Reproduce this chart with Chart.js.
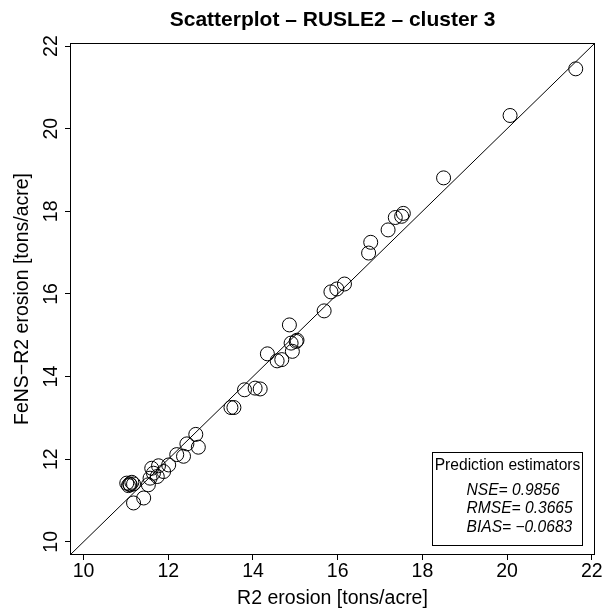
<!DOCTYPE html>
<html>
<head>
<meta charset="utf-8">
<script src="https://cdn.jsdelivr.net/npm/chart.js@4/dist/chart.umd.min.js"></script>
<style>
  html, body { margin: 0; padding: 0; background: #ffffff; }
  #wrap { width: 603px; height: 610px; }
</style>
</head>
<body>
<div id="wrap"><canvas id="c" width="603" height="610"></canvas></div>
<script>
// Observed R2 erosion (x) and FeNS-R2 erosion (y), tons/acre
const r2Erosion = [
  21.62, 20.07, 18.50, 17.55, 17.51, 17.36, 17.19, 16.78, 16.73,
  16.16, 15.98, 15.84, 15.68, 14.86, 15.04, 15.02, 14.90, 14.93,
  14.34, 14.57, 14.68, 14.17, 14.05, 13.80, 13.55, 13.48,
  12.71, 12.65, 12.44, 12.36, 12.20, 12.01, 11.89, 11.77, 11.65,
  11.61, 11.74, 11.57, 11.53, 11.42, 11.18,
  11.02, 11.09, 11.14, 11.06, 11.10, 11.18
];
const fensErosion = [
  21.45, 20.32, 18.81, 17.95, 17.88, 17.85, 17.55, 17.25, 16.99,
  16.24, 16.12, 16.05, 15.59, 15.25, 14.88, 14.85, 14.81, 14.61,
  14.55, 14.38, 14.41, 13.70, 13.72, 13.68, 13.25, 13.25,
  12.29, 12.60, 12.37, 12.07, 12.11, 11.86, 11.70, 11.84, 11.66,
  11.78, 11.58, 11.54, 11.38, 11.06, 10.94,
  11.42, 11.40, 11.44, 11.36, 11.38, 11.40
];

// Shared axis range (both axes) and tick positions
const axisLimits = [9.68, 22.075];
const tickValues = [10, 12, 14, 16, 18, 20, 22];

// Goodness-of-fit summary shown in the inset box
const estimatorTitle = 'Prediction estimators';
const estimatorLabels = ['NSE= 0.9856', 'RMSE= 0.3665', 'BIAS= \u22120.0683'];

const FONT = "'Liberation Sans', Arial, Helvetica, sans-serif";
const AXIS_SIZE = 19.5;
const INK = '#000000';

// Frame around the plotting region, rotated y tick labels and the estimator box
const framePlugin = {
  id: 'frame',
  afterDraw(chart) {
    const { ctx, chartArea: a, scales } = chart;
    ctx.save();
    ctx.strokeStyle = INK;
    ctx.lineWidth = 1;
    ctx.strokeRect(Math.round(a.left) + 0.5, Math.round(a.top) + 0.5,
                   Math.round(a.right - a.left) - 1, Math.round(a.bottom - a.top) - 1);

    // y tick labels, parallel to the axis
    ctx.fillStyle = INK;
    ctx.font = AXIS_SIZE + 'px ' + FONT;
    ctx.textAlign = 'center';
    ctx.textBaseline = 'middle';
    tickValues.forEach(v => {
      const py = scales.y.getPixelForValue(v);
      ctx.save();
      ctx.translate(a.left - 18, py);
      ctx.rotate(-Math.PI / 2);
      ctx.fillText(String(v), 0, 0);
      ctx.restore();
    });

    // estimator box in the lower-right corner
    const bw = 150, bh = 93;
    const bx = Math.round(a.right - 13 - bw), by = Math.round(a.bottom - 10 - bh);
    ctx.fillStyle = '#ffffff';
    ctx.fillRect(bx, by, bw, bh);
    ctx.strokeStyle = INK;
    ctx.strokeRect(bx + 0.5, by + 0.5, bw, bh);
    ctx.fillStyle = INK;
    ctx.font = '15.6px ' + FONT;
    ctx.textAlign = 'center';
    ctx.textBaseline = 'middle';
    ctx.fillText(estimatorTitle, bx + bw / 2 + 0.5, by + 13.5);
    ctx.font = 'italic 15.6px ' + FONT;
    ctx.textAlign = 'left';
    estimatorLabels.forEach((t, i) => {
      ctx.fillText(t, bx + 34.5, by + 38.5 + i * 18.4);
    });
    ctx.restore();
  }
};

const fixedTicks = s => { s.ticks = tickValues.map(v => ({ value: v })); };

new Chart(document.getElementById('c'), {
  type: 'scatter',
  data: {
    datasets: [
      {
        label: 'cluster 3',
        data: r2Erosion.map((x, i) => ({ x: x, y: fensErosion[i] })),
        pointStyle: 'circle',
        pointRadius: 7,
        pointHoverRadius: 7,
        borderColor: INK,
        borderWidth: 1,
        backgroundColor: 'rgba(0,0,0,0)'
      },
      {
        label: '1:1',
        data: axisLimits.map(v => ({ x: v, y: v })),
        showLine: true,
        borderColor: INK,
        borderWidth: 1,
        pointRadius: 0,
        fill: false
      }
    ]
  },
  options: {
    responsive: false,
    animation: false,
    devicePixelRatio: 1,
    layout: { padding: { top: 0, right: 8, left: 0, bottom: 0 } },
    plugins: {
      legend: { display: false },
      tooltip: { enabled: false },
      title: {
        display: true,
        fullSize: false,
        text: 'Scatterplot \u2013 RUSLE2 \u2013 cluster 3',
        color: INK,
        font: { family: FONT, size: 21, weight: 'bold' },
        padding: { top: 8, bottom: 9.8 }
      }
    },
    scales: {
      x: {
        type: 'linear',
        min: axisLimits[0],
        max: axisLimits[1],
        afterBuildTicks: fixedTicks,
        afterFit: s => { s.height = 55; },
        border: { display: false },
        grid: { display: true, drawOnChartArea: false, drawTicks: true, tickLength: 5, color: INK, lineWidth: 1 },
        ticks: { color: INK, font: { family: FONT, size: AXIS_SIZE }, padding: 0, maxRotation: 0, autoSkip: false },
        title: {
          display: true,
          text: 'R2 erosion [tons/acre]',
          color: INK,
          font: { family: FONT, size: AXIS_SIZE },
          padding: { top: 0, bottom: 0 }
        }
      },
      y: {
        type: 'linear',
        min: axisLimits[0],
        max: axisLimits[1],
        afterBuildTicks: fixedTicks,
        afterFit: s => { s.width = 70; },
        border: { display: false },
        grid: { display: true, drawOnChartArea: false, drawTicks: true, tickLength: 5, color: INK, lineWidth: 1 },
        ticks: { display: false },
        title: {
          display: true,
          text: 'FeNS\u2212R2 erosion [tons/acre]',
          color: INK,
          font: { family: FONT, size: AXIS_SIZE },
          padding: { top: 11, bottom: 0 }
        }
      }
    }
  },
  plugins: [framePlugin]
});
</script>
</body>
</html>
